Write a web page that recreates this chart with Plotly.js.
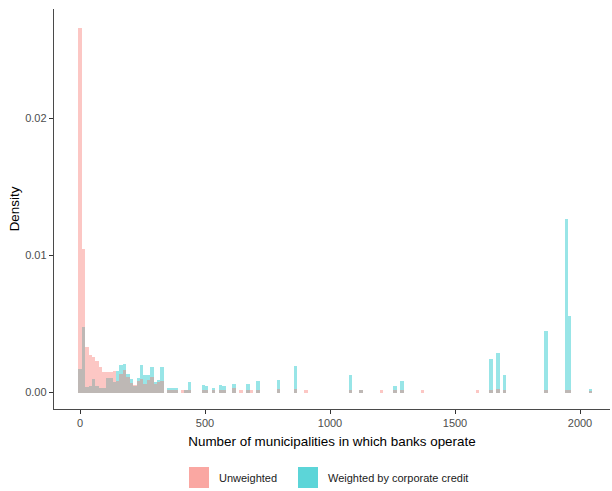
<!DOCTYPE html>
<html>
<head>
<meta charset="utf-8">
<script src="https://cdn.plot.ly/plotly-3.0.1.min.js"></script>
<style>
  html, body { margin: 0; padding: 0; background: #ffffff; }
  #chart { width: 612px; height: 491px; }
</style>
</head>
<body>
<div id="chart"></div>
<script>
// Histogram bins (midpoints, number of municipalities)
const binMid = [
  0, 13.7, 27.4, 41.1, 54.8, 68.5, 82.2, 95.9, 109.6, 123.3,
  137, 150.7, 164.4, 178.1, 191.8, 205.5, 219.2, 232.9, 246.6, 260.3,
  274, 287.7, 301.4, 315.1, 328.8, 356.2, 369.9, 383.6, 411, 424.7,
  438.4, 493.2, 506.9, 534.3, 561.7, 575.4, 616.5, 643.9, 671.3, 685,
  712.4, 794.6, 863.1, 904.2, 1082.3, 1123.4, 1205.6, 1260.4, 1287.8, 1370,
  1589.2, 1644, 1671.4, 1698.8, 1863.2, 1945.4, 1959.1, 2041.3
];

// Density per bin, unweighted count of banks
const unweighted = [
  0.0266, 0.0105, 0.00336, 0.00275, 0.00258, 0.00234, 0.00185, 0.00153, 0.00153, 0.00153,
  0.00156, 0.00088, 0.00136, 0.00165, 0.00112, 0.00068, 0.00055, 0.00088, 0.00100, 0.00063,
  0.00092, 0.00110, 0.00063, 0.00075, 0.00088, 0.0002, 0.0002, 0.0002, 0.0002, 0.0002,
  0.0002, 0.0002, 0.0002, 0.0002, 0.0002, 0.0002, 0.0003, 0.0002, 0.0002, 0.0002,
  0.00022, 0.00029, 0.00029, 0.0002, 0.0002, 0.0002, 0.0002, 0.0002, 0.0002, 0.0002,
  0.0002, 0.0002, 0.00029, 0.0002, 0.0002, 0.0002, 0.0002, 0.00015
];

// Density per bin, weighted by corporate credit
const weighted = [
  0.00173, 0.00477, 0.00044, 0.00045, 0.00100, 0.00050, 0.00034, 0.00034, 0.00105, 0.00105,
  0.00080, 0.00160, 0.00200, 0.00210, 0.00136, 0.00100, 0.00050, 0.00107, 0.00200, 0.00130,
  0.00130, 0.00190, 0.00075, 0.00092, 0.00185, 0.00032, 0.00034, 0.00034, 0, 0.0002,
  0.0008, 0.00055, 0.00045, 0.00035, 0.00055, 0.0005, 0.00063, 0, 0.00063, 0,
  0.00083, 0.00092, 0.00192, 0, 0.00131, 0.0002, 0, 0.00046, 0.00083, 0,
  0, 0.00246, 0.00292, 0.00129, 0.00448, 0.01268, 0.00557, 0.00029
];

const seriesNames = ["Unweighted", "Weighted by corporate credit"];
const seriesColors = ["#F8766D", "#00BFC4"];

const BIN_WIDTH = 13.7;
const FONT = "Liberation Sans, Arial, sans-serif";

// Weighted drawn first so the unweighted bars sit on top of it
const traces = [
  {
    type: "bar", name: seriesNames[1], x: binMid, y: weighted, width: BIN_WIDTH,
    marker: { color: seriesColors[1], line: { width: 0 } }, opacity: 0.4,
    showlegend: false, hoverinfo: "x+y"
  },
  {
    type: "bar", name: seriesNames[0], x: binMid, y: unweighted, width: BIN_WIDTH,
    marker: { color: seriesColors[0], line: { width: 0 } }, opacity: 0.4,
    showlegend: false, hoverinfo: "x+y"
  }
];

// Plot area spans 54..610 px horizontally and 8..408 px vertically
const PL = 54, PR = 610, PT = 9, PB = 409;
const px = v => (v - PL) / (PR - PL);
const py = v => (PB - v) / (PB - PT);

// Legend keys (two stacked alpha layers give the darker swatch)
function swatch(x0, color) {
  return [0, 1].map(() => ({
    type: "rect", xref: "paper", yref: "paper",
    x0: px(x0), x1: px(x0 + 20), y0: py(488), y1: py(467),
    fillcolor: color, opacity: 0.4, line: { width: 0 }
  }));
}

const shapes = [].concat(swatch(189, seriesColors[0]), swatch(298, seriesColors[1]));

const annotations = [
  { text: seriesNames[0], x: px(217), y: py(478), xref: "paper", yref: "paper",
    xanchor: "left", yanchor: "middle", showarrow: false,
    font: { family: FONT, size: 11, color: "#1a1a1a" } },
  { text: seriesNames[1], x: px(326), y: py(478), xref: "paper", yref: "paper",
    xanchor: "left", yanchor: "middle", showarrow: false,
    font: { family: FONT, size: 11, color: "#1a1a1a" } }
];

const layout = {
  width: 612, height: 491,
  margin: { l: PL, r: 612 - PR, t: PT, b: 491 - PB, pad: 0 },
  paper_bgcolor: "#ffffff", plot_bgcolor: "#ffffff",
  barmode: "overlay", bargap: 0,
  showlegend: false,
  font: { family: FONT, color: "#4D4D4D" },
  xaxis: {
    range: [-104, 2120],
    tickvals: [0, 500, 1000, 1500, 2000],
    ticktext: ["0", "500", "1000", "1500", "2000"],
    ticks: "outside", ticklen: 4, tickwidth: 1, tickcolor: "#333333",
    showline: true, linecolor: "#4a4a4a", linewidth: 1.2,
    showgrid: false, zeroline: false,
    tickfont: { family: FONT, size: 11, color: "#4D4D4D" },
    title: { text: "Number of municipalities in which banks operate",
             font: { family: FONT, size: 13.4, color: "#000000" }, standoff: 8 }
  },
  yaxis: {
    range: [-0.0012, 0.028],
    tickvals: [0, 0.01, 0.02],
    ticktext: ["0.00", "0.01", "0.02"],
    ticks: "outside", ticklen: 4, tickwidth: 1, tickcolor: "#333333",
    showline: true, linecolor: "#4a4a4a", linewidth: 1.2,
    showgrid: false, zeroline: false,
    tickfont: { family: FONT, size: 11, color: "#4D4D4D" },
    title: { text: "Density",
             font: { family: FONT, size: 13.4, color: "#000000" }, standoff: 2 }
  },
  shapes: shapes,
  annotations: annotations
};

Plotly.newPlot("chart", traces, layout, { staticPlot: true, displayModeBar: false });
</script>
</body>
</html>
